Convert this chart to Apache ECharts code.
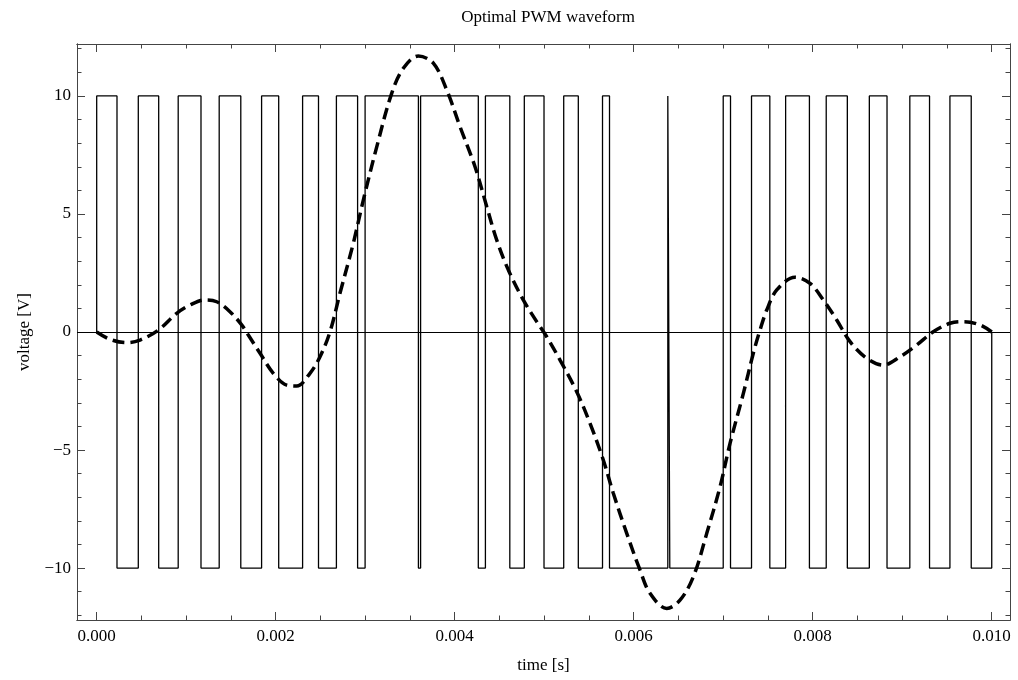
<!DOCTYPE html>
<html><head><meta charset="utf-8">
<script src="https://cdn.jsdelivr.net/npm/echarts@6/dist/echarts.min.js"></script>
<style>html,body{margin:0;padding:0;background:#fff}#c{width:1018px;height:680px}</style>
</head><body><div id="c"></div>
<script>
// PWM switching instants (s); waveform starts at +10 V after t=0 and alternates
const switchTimes = [
  0.0002268, 0.0004648, 0.0006927, 0.0009106, 0.0011653, 0.0013687, 0.0016100, 0.0018424,
  0.0020335, 0.0023005, 0.0024782, 0.0026782, 0.0029150, 0.0029988, 0.0035944, 0.0036189,
  0.0042636, 0.0043430, 0.0046156, 0.0047776, 0.0049977, 0.0052178, 0.0053809, 0.0056513,
  0.0057295, 0.0063809, 0.0064032, 0.0069999, 0.0070814, 0.0073161, 0.0075206, 0.0076971,
  0.0079630, 0.0081507, 0.0083865, 0.0086323, 0.0088300, 0.0090848, 0.0093050, 0.0095328,
  0.0097708
];
const pwmHigh = 10;
const pwmStart = 0;
const pwmEnd = 0.010;

// Dashed reference curve
const curveTimes = [
  0, 0.000149, 0.000335, 0.000484, 0.000688, 0.000894, 0.001042, 0.001210, 0.001341,
  0.001489, 0.001620, 0.001694, 0.001825, 0.001973, 0.002123, 0.002235, 0.002383,
  0.002495, 0.002607, 0.002718, 0.002867, 0.002979, 0.003128, 0.003296, 0.003426,
  0.003593, 0.003761, 0.003911, 0.004059, 0.004227, 0.004358, 0.004469, 0.004599,
  0.004766, 0.004916, 0.005028, 0.005177, 0.005363, 0.005512, 0.005660, 0.005772,
  0.005922, 0.006070, 0.006182, 0.006369, 0.006517, 0.006666, 0.006816, 0.006964,
  0.007076, 0.007225, 0.007336, 0.007411, 0.007486, 0.007598, 0.007802, 0.007970,
  0.008118, 0.008268, 0.008417, 0.008603, 0.008789, 0.008975, 0.009162, 0.009347,
  0.009534, 0.009683, 0.009869, 0.010000
];
const curveValues = [
  0, -0.31, -0.45, -0.34, 0.08, 0.79, 1.14, 1.36, 1.28,
  0.86, 0.30, -0.13, -0.90, -1.75, -2.25, -2.29, -1.75,
  -1.05, 0.01, 1.64, 3.76, 5.59, 7.83, 10.11, 11.17,
  11.69, 11.39, 10.25, 8.70, 7.00, 5.31, 3.90, 2.63,
  1.36, 0.44, -0.20, -1.19, -2.53, -3.87, -5.42, -6.83,
  -8.53, -10.08, -11.07, -11.71, -11.36, -10.37, -8.53, -6.56,
  -4.72, -2.60, -0.90, 0.08, 0.93, 1.78, 2.32, 2.06,
  1.36, 0.51, -0.41, -1.11, -1.40, -1.05, -0.55, 0.01,
  0.37, 0.44, 0.30, 0
];

const xMajorTicks = [0, 0.002, 0.004, 0.006, 0.008, 0.010];
const xMinorTicks = [0,0.0005,0.001,0.0015,0.002,0.0025,0.003,0.0035,0.004,0.0045,0.005,0.0055,0.006,0.0065,0.007,0.0075,0.008,0.0085,0.009,0.0095,0.010];
const yMajorTicks = [-10, -5, 0, 5, 10];
const yMinorTicks = [-12,-11,-10,-9,-8,-7,-6,-5,-4,-3,-2,-1,0,1,2,3,4,5,6,7,8,9,10,11,12];

const X_MIN = -0.00022, X_MAX = 0.010204, Y_MIN = -12.2, Y_MAX = 12.2;
const FONT = 'Liberation Serif';
const FRAME = '#444';

const pwmData = [[pwmStart, 0], [pwmStart, pwmHigh]];
let level = pwmHigh;
for (const t of switchTimes) {
  pwmData.push([t, level]);
  level = -level;
  pwmData.push([t, level]);
}
pwmData.push([pwmEnd, level]);
pwmData.push([pwmEnd, 0]);

const curveData = curveTimes.map((t, i) => [t, curveValues[i]]);

function xAx(pos, ticks, len, labels, name) {
  return {
    type: 'value', position: pos, min: X_MIN, max: X_MAX,
    axisLine: { show: true, onZero: false, lineStyle: { color: FRAME, width: 1 } },
    axisTick: { show: true, inside: true, length: len, customValues: ticks, lineStyle: { color: FRAME, width: 1 } },
    axisLabel: labels ? { show: true, customValues: ticks, margin: 8, color: '#000', fontFamily: FONT, fontSize: 17,
      formatter: v => v.toFixed(3) } : { show: false },
    splitLine: { show: false },
    name: name || '', nameLocation: 'middle', nameGap: 37,
    nameTextStyle: { color: '#000', fontFamily: FONT, fontSize: 17 }
  };
}
function yAx(pos, ticks, len, labels, name) {
  return {
    type: 'value', position: pos, min: Y_MIN, max: Y_MAX,
    axisLine: { show: true, onZero: false, lineStyle: { color: FRAME, width: 1 } },
    axisTick: { show: true, inside: true, length: len, customValues: ticks, lineStyle: { color: FRAME, width: 1 } },
    axisLabel: labels ? { show: true, customValues: ticks, margin: 6, color: '#000', fontFamily: FONT, fontSize: 17,
      formatter: v => (v < 0 ? '\u2212' + (-v) : '' + v) } : { show: false },
    splitLine: { show: false },
    name: name || '', nameLocation: 'middle', nameGap: 44,
    nameTextStyle: { color: '#000', fontFamily: FONT, fontSize: 17 }
  };
}

const chart = echarts.init(document.getElementById('c'), null, { renderer: 'canvas' });
chart.setOption({
  animation: false,
  backgroundColor: '#fff',
  title: {
    text: 'Optimal PWM waveform', left: 543, top: 4, textAlign: 'center',
    textStyle: { color: '#000', fontFamily: FONT, fontSize: 17, fontWeight: 'normal' }
  },
  grid: { left: 77, right: 8, top: 44, bottom: 60, containLabel: false },
  xAxis: [
    xAx('bottom', xMajorTicks, 8, true, 'time [s]'),
    xAx('bottom', xMinorTicks, 4.5, false),
    xAx('top', xMajorTicks, 8, false),
    xAx('top', xMinorTicks, 4.5, false)
  ],
  yAxis: [
    yAx('left', yMajorTicks, 8, true, 'voltage [V]'),
    yAx('left', yMinorTicks, 4.5, false),
    yAx('right', yMajorTicks, 8, false),
    yAx('right', yMinorTicks, 4.5, false)
  ],
  series: [
    {
      type: 'line', xAxisIndex: 0, yAxisIndex: 0, data: pwmData,
      showSymbol: false, symbol: 'none',
      lineStyle: { color: '#000', width: 1.3 },
      markLine: {
        silent: true, symbol: ['none', 'none'], label: { show: false },
        lineStyle: { color: '#000', width: 1, type: 'solid' },
        data: [{ yAxis: 0 }]
      },
      z: 2
    },
    {
      type: 'line', xAxisIndex: 0, yAxisIndex: 0, data: curveData,
      showSymbol: false, symbol: 'none', smooth: 0.35,
      lineStyle: { color: '#000', width: 3.5, type: [12, 6], cap: 'butt' },
      z: 3
    }
  ]
});
</script>
</body></html>
